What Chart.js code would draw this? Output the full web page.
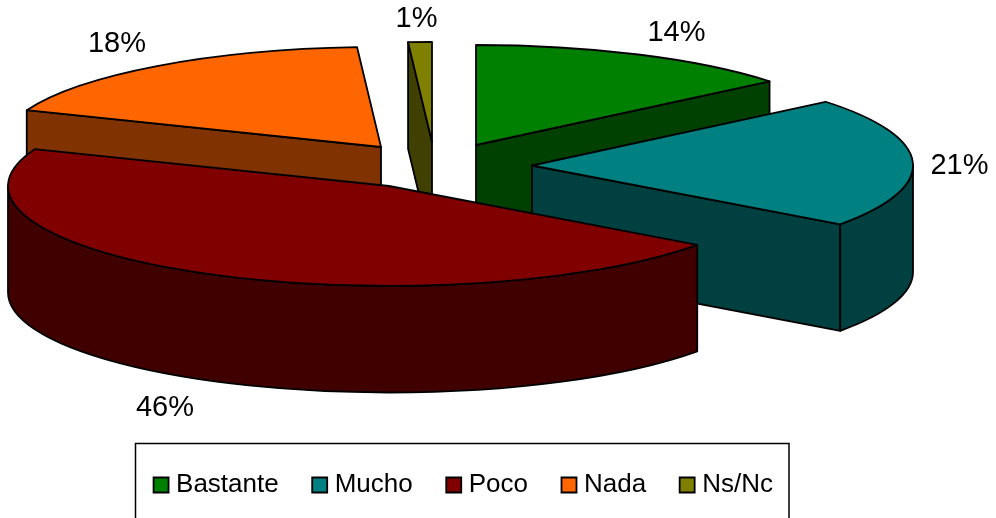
<!DOCTYPE html>
<html>
<head>
<meta charset="utf-8">
<style>html,body{margin:0;padding:0;background:#fff}canvas{display:block}</style>
<script src="https://cdn.jsdelivr.net/npm/chart.js@4"></script>
</head>
<body>
<canvas id="c" width="996" height="518"></canvas>
<script>
const categories = ['Bastante', 'Mucho', 'Poco', 'Nada', 'Ns/Nc'];
const percentages = [14, 21, 46, 18, 1];
const topColors = ['#008000', '#008080', '#800000', '#FF6600', '#808000'];
const sideColors = ['#004000', '#004040', '#400000', '#803300', '#404000'];

// 3D look: projection of the pie, explosion of each slice, paint order back to front
const center = {x: 440, y: 167};
const radiusX = 381, radiusY = 100, depth = 106.5;
const explode = [[36, -22], [92, -1.5], [-51, 19], [-59, -20], [-8, -25]];
const paintOrder = [3, 4, 0, 1, 2];
const labelAnchors = [[676.5, 33], [959.5, 166], [165, 408], [117, 44], [416.5, 19]];
const legendFrame = {left: 135.5, top: 443.5, right: 789, bottom: 530};
const font = '"Liberation Sans", Arial, sans-serif';

function facePath(ctx, pts) {
  ctx.beginPath();
  pts.forEach((p, i) => i ? ctx.lineTo(p[0], p[1]) : ctx.moveTo(p[0], p[1]));
  ctx.closePath();
}
function paint(ctx, fill) {
  ctx.fillStyle = fill;
  ctx.fill();
  ctx.stroke();
}

const pie3d = {
  id: 'pie3d',
  beforeDatasetsDraw(chart) {
    const ctx = chart.ctx;
    const arcs = chart.getDatasetMeta(0).data;
    ctx.save();
    ctx.strokeStyle = '#000';
    ctx.lineWidth = 1.8;
    ctx.lineJoin = 'round';
    for (const i of paintOrder) {
      const {startAngle: a0, endAngle: a1} = arcs[i].getProps(['startAngle', 'endAngle']);
      const ax = center.x + explode[i][0], ay = center.y + explode[i][1];
      const rim = a => [ax + radiusX * Math.cos(a), ay + radiusY * Math.sin(a)];
      const mid = rim((a0 + a1) / 2);

      // flat cut faces that look toward the viewer
      for (const a of [a0, a1]) {
        const e = rim(a);
        if (Math.abs(e[0] - ax) < 1) continue;
        const lineY = ay + (e[1] - ay) * (mid[0] - ax) / (e[0] - ax);
        if (mid[1] < lineY) {
          facePath(ctx, [[ax, ay], e, [e[0], e[1] + depth], [ax, ay + depth]]);
          paint(ctx, sideColors[i]);
        }
      }
      // outer wall: only the part of the rim on the near side
      const from = Math.max(a0, 0), to = Math.min(a1, Math.PI);
      if (to > from) {
        ctx.beginPath();
        ctx.ellipse(ax, ay, radiusX, radiusY, 0, from, to);
        ctx.ellipse(ax, ay + depth, radiusX, radiusY, 0, to, from, true);
        ctx.closePath();
        paint(ctx, sideColors[i]);
      }
      // top face
      ctx.beginPath();
      ctx.moveTo(ax, ay);
      ctx.ellipse(ax, ay, radiusX, radiusY, 0, a0, a1);
      ctx.closePath();
      paint(ctx, topColors[i]);
    }
    // percentage labels
    ctx.fillStyle = '#000';
    ctx.font = '29px ' + font;
    ctx.textAlign = 'center';
    ctx.textBaseline = 'middle';
    percentages.forEach((v, i) => ctx.fillText(v + '%', labelAnchors[i][0], labelAnchors[i][1]));
    ctx.restore();
    return false;
  },
  afterDraw(chart) {
    const ctx = chart.ctx;
    ctx.save();
    ctx.strokeStyle = '#000';
    ctx.lineWidth = 1.5;
    ctx.strokeRect(legendFrame.left, legendFrame.top,
      legendFrame.right - legendFrame.left, legendFrame.bottom - legendFrame.top);
    ctx.restore();
  }
};

new Chart(document.getElementById('c'), {
  type: 'pie',
  data: {
    labels: categories,
    datasets: [{
      data: percentages,
      backgroundColor: topColors,
      borderColor: '#000',
      borderWidth: 1.8
    }]
  },
  options: {
    responsive: false,
    animation: false,
    layout: {padding: {right: 64, bottom: 10}},
    plugins: {
      tooltip: {enabled: false},
      title: {display: false},
      legend: {
        display: true,
        position: 'bottom',
        labels: {
          usePointStyle: true,
          pointStyle: 'rect',
          boxWidth: 4,
          boxHeight: 15,
          padding: 39,
          color: '#000',
          font: {family: font, size: 26}
        }
      }
    }
  },
  plugins: [pie3d]
});
</script>
</body>
</html>
